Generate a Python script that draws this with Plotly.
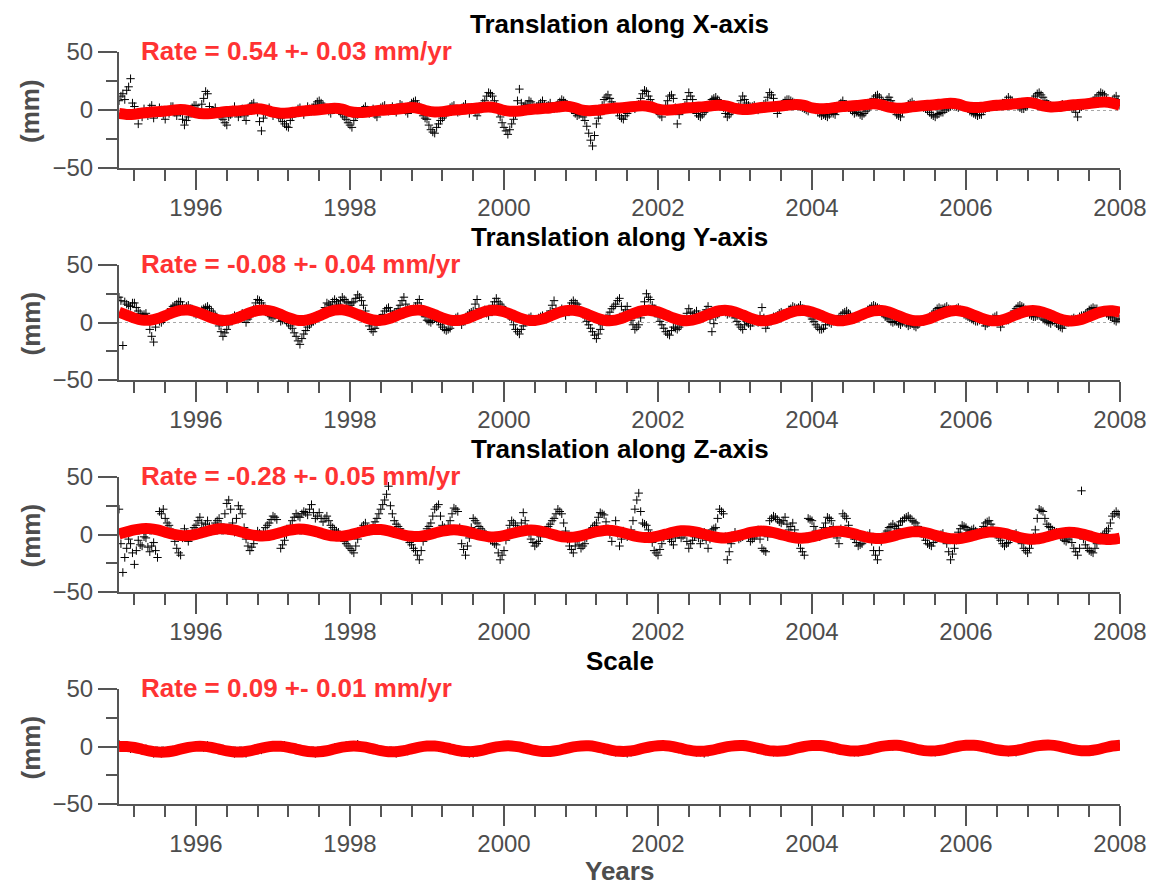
import numpy as np
import plotly.graph_objects as go

W, H = 1165, 888

# ---------------- data ----------------
# black crosses: daily solutions, thinned (one value every `step` years)
black_start = 1995.0
black_steps = [0.025, 0.025, 0.025, 0.05]
fit_start, fit_step = 1995.0, 0.1        # fitted model

x_black = [
    8, 12, 14, 9, 17, 20, 27, 6, 3, -4, -12, -2, -6, 1, -3, -5, 2, 4, -7, -1, -3, 2, 0, -4, -8, -1, -3, 3, 3, -2, -5, 0, -2, -8, -13, -9, -6, -1, 2, 4,
    4, 1, -2, 5, 10, 16, 14, 3, -3, -1, 2, -3, -4, -6, -8, -11, -13, -6, -4, 0, 3, -2, -6, -3, 1, -5, -9, -2, 3, 5, 6, 1, -2, -10, -18, -7, -3, 0, 2, -1,
    -5, -3, -2, -6, -7, -10, -12, -14, -15, -9, -6, -3, -2, 1, 2, -1, -4, 0, 3, 1, -1, 2, 5, 7, 8, 6, 4, 2, 1, -1, -3, 0, 2, 1, 0, -2, -4, -6, -8, -11,
    -13, -15, -9, -6, -4, -2, -1, 1, 3, 0, -3, -1, 1, -4, -6, -1, 2, 3, 4, 1, -1, 1, 3, 0, -2, 2, 5, 4, 2, -1, -3, 2, 6, 7, 8, 5, 3, -1, -5, -7,
    -8, -13, -17, -19, -20, -15, -12, -9, -7, -5, -3, 0, 2, 3, 4, 1, -2, -1, 1, 3, 5, 1, -3, 0, 2, -2, -5, -1, 3, 6, 8, 12, 15, 14, 12, 8, 4, -2, -6, -11,
    -15, -18, -21, -17, -12, -8, -4, 8, 18, 6, 3, 4, 5, 8, 7, 4, 2, 3, 4, 6, 8, 5, 3, 4, 6, 3, 1, 3, 5, 7, 9, 8, 6, 4, 3, 1, 0, -3, -5, -4,
    -3, -6, -9, -14, -20, -26, -31, -22, -12, -7, -4, 4, 9, 11, 13, 10, 7, 4, 2, -2, -5, -7, -8, -5, -3, 0, 3, 2, 1, 3, 5, 10, 14, 17, 16, 12, 9, 5, 2, 0,
    -2, -4, -6, 0, 4, 8, 12, 13, 10, 2, -12, -4, 1, 2, 4, 9, 15, 12, 9, 3, -3, -5, -6, -4, -2, 0, 3, 6, 9, 10, 11, 9, 7, 4, 2, -3, -6, -4, -2, 0,
    1, 2, 3, 8, 12, 9, 6, 4, 2, 3, 4, 2, 0, 1, 3, 5, 6, 11, 15, 13, 10, 4, -3, 1, 4, 6, 8, 9, 9, 8, 7, 6, 5, 4, 3, 2, 1, 0, -1, 1,
    2, 1, 0, -2, -3, -5, -4, -5, -6, -4, -2, -3, -4, 0, 4, 6, 8, 5, 3, 2, 1, -1, -3, -2, -2, -4, -5, -3, -1, 1, 3, 7, 10, 12, 13, 11, 9, 7, 6, 9,
    11, 8, 5, 0, -4, -5, -6, -2, 1, 3, 5, 6, 7, 5, 3, 4, 4, 3, 2, 1, 0, -2, -4, -5, -6, -4, -3, -2, -2, 0, 1, 2, 3, 4, 4, 3, 2, 4, 5, 4,
    3, 1, -1, -2, -3, -4, -5, -4, -4, -1, 1, 2, 2, 3, 4, 3, 3, 4, 5, 6, 6, 9, 11, 9, 8, 6, 5, 3, 2, 1, 1, 3, 4, 6, 7, 10, 12, 14, 15, 13,
    11, 8, 6, 5, 4, 3, 2, 3, 3, 4, 5, 4, 4, 3, 3, 2, 2, -2, -6, 1, 3, 4, 5, 6, 6, 7, 8, 10, 11, 13, 15, 14, 13, 9, 6, 7, 8, 10, 12, 9,
    4,
]
x_fit = [
    -3.0, -3.8, -3.6, -2.6, -1.9, -1.4, -0.9, -0.1, 0.4, -0.4,
    -2.5, -3.3, -3.0, -2.1, -1.3, -0.9, -0.3, 0.4, 1.0, 0.1,
    -1.9, -2.8, -2.5, -1.6, -0.8, -0.3, 0.2, 1.0, 1.5, 0.7,
    -1.4, -2.2, -2.0, -1.0, -0.3, 0.2, 0.7, 1.5, 2.1, 1.2,
    -0.8, -1.7, -1.4, -0.5, 0.3, 0.7, 1.3, 2.0, 2.6, 1.7,
    -0.3, -1.1, -0.9, 0.1, 0.8, 1.3, 1.8, 2.6, 3.2, 2.3,
    0.2, -0.6, -0.3, 0.6, 1.4, 1.8, 2.4, 3.1, 3.7, 2.8,
    0.8, -0.1, 0.2, 1.1, 1.9, 2.4, 2.9, 3.7, 4.2, 3.4,
    1.3, 0.5, 0.7, 1.7, 2.4, 2.9, 3.5, 4.2, 4.8, 3.9,
    1.9, 1.0, 1.3, 2.2, 3.0, 3.4, 4.0, 4.7, 5.3, 4.4,
    2.4, 1.6, 1.8, 2.8, 3.5, 4.0, 4.5, 5.3, 5.8, 5.0,
    2.9, 2.1, 2.3, 3.3, 4.1, 4.5, 5.1, 5.8, 6.4, 5.5,
    3.5, 2.6, 2.9, 3.8, 4.6, 5.0, 5.6, 6.4, 6.9, 6.0,
    4.0,
]

y_black = [
    22, 19, -20, 18, 16, 15, 14, 17, 17, 13, 10, 8, 6, 7, 8, 2, -6, -12, -17, -4, 3, 1, 0, 2, 5, 6, 8, 12, 14, 15, 16, 18, 18, 15, 12, 14, 15, 12, 10, 8,
    7, 8, 9, 11, 12, 13, 14, 12, 10, 8, 6, 2, -3, -8, -12, -9, -6, -2, 2, 4, 6, 5, 3, 6, 8, 4, 0, 3, 5, 9, 12, 17, 20, 19, 17, 14, 12, 9, 6, 5,
    4, 6, 8, 4, 1, 2, 3, 1, -1, -3, -5, -9, -12, -16, -19, -14, -10, -7, -4, -2, 0, 1, 2, 4, 6, 8, 9, 13, 17, 16, 15, 18, 20, 18, 16, 19, 22, 20, 18, 17,
    15, 17, 18, 21, 24, 22, 19, 15, 10, 3, -3, -6, -8, -5, -2, 1, 4, 7, 10, 12, 13, 10, 7, 8, 9, 12, 15, 19, 22, 16, 12, 11, 10, 12, 14, 17, 20, 14, 8, 5,
    2, 1, 0, 2, 4, 3, 1, -2, -4, -6, -7, -6, -5, -1, 2, 4, 5, 1, -2, 1, 3, 6, 8, 9, 10, 16, 20, 12, 7, 9, 11, 8, 6, 11, 15, 18, 21, 18, 16, 14,
    12, 10, 8, 5, 3, -2, -6, -8, -10, -6, -3, 0, 2, 4, 5, 3, 1, 2, 4, 5, 6, 4, 3, 7, 10, 15, 19, 12, 8, 10, 12, 9, 6, 10, 14, 17, 19, 17, 16, 13,
    10, 7, 5, 1, -2, -5, -8, -11, -14, -10, -6, -2, 2, 4, 6, 9, 12, 14, 16, 19, 21, 14, 8, 11, 14, 8, 2, -2, -6, -4, -2, 4, 10, 18, 25, 22, 20, 15, 12, 8,
    5, 1, -2, -5, -8, -10, -11, -7, -4, -5, -6, -4, -2, 1, 3, 8, 12, 9, 6, 8, 10, 7, 4, 6, 8, 11, 14, 3, -8, -1, 5, 7, 9, 10, 11, 9, 7, 8, 10, 7,
    4, 1, -2, -4, -6, -2, 1, -1, -3, 0, 3, 1, 0, 6, 13, 4, -5, -2, 2, 3, 5, 5, 6, 8, 9, 8, 7, 9, 11, 12, 14, 13, 12, 13, 15, 12, 10, 9, 8, 6,
    3, 1, -2, -4, -6, -6, -5, -2, 1, 0, -1, 1, 2, 3, 4, 6, 8, 9, 10, 8, 6, 4, 3, 4, 5, 6, 7, 8, 9, 11, 12, 14, 15, 14, 13, 12, 11, 8, 5, 4,
    3, 1, 0, 1, 1, -1, -2, 0, 2, -1, -3, -2, -1, -3, -4, -2, 0, 1, 1, 2, 3, 5, 6, 8, 10, 12, 13, 12, 12, 13, 14, 12, 11, 10, 10, 12, 13, 11, 9, 7,
    6, 5, 4, 3, 2, 1, 1, 2, 3, 0, -3, -1, 0, 2, 4, 5, 6, 1, -4, 0, 3, 2, 2, 4, 7, 10, 12, 14, 15, 14, 13, 11, 9, 7, 6, 5, 5, 6, 7, 5,
    3, 2, 1, 0, -1, 1, 2, -1, -3, -4, -5, -2, 0, 0, 1, 3, 4, 3, 3, 5, 6, 6, 7, 9, 11, 12, 13, 12, 12, 10, 9, 10, 10, 8, 6, 5, 4, 2, 1, 3,
    3,
]
y_fit = [
    9.0, 6.5, 3.8, 2.1, 2.0, 3.4, 6.0, 8.7, 10.5, 10.8,
    9.4, 6.9, 4.1, 2.2, 1.9, 3.2, 5.7, 8.5, 10.4, 10.7,
    9.5, 7.0, 4.1, 2.1, 1.8, 3.2, 5.8, 8.7, 10.7, 11.0,
    9.6, 7.0, 4.1, 2.2, 1.9, 3.2, 5.7, 8.5, 10.4, 10.8,
    9.4, 6.8, 4.0, 2.1, 1.8, 3.1, 5.6, 8.4, 10.3, 10.6,
    9.3, 6.8, 4.0, 2.1, 1.8, 3.1, 5.6, 8.4, 10.3, 10.6,
    9.3, 6.7, 3.9, 2.0, 1.7, 3.0, 5.5, 8.3, 10.2, 10.5,
    9.2, 6.7, 3.9, 2.0, 1.7, 3.0, 5.5, 8.3, 10.2, 10.5,
    9.1, 6.6, 3.8, 1.9, 1.6, 2.9, 5.4, 8.2, 10.1, 10.4,
    9.1, 6.6, 3.8, 1.9, 1.6, 2.9, 5.4, 8.2, 10.1, 10.4,
    9.0, 6.5, 3.7, 1.8, 1.5, 2.8, 5.3, 8.1, 10.0, 10.3,
    9.0, 6.5, 3.7, 1.8, 1.5, 2.8, 5.3, 8.1, 10.0, 10.3,
    8.9, 6.4, 3.6, 1.7, 1.4, 2.7, 5.2, 8.0, 9.9, 10.2,
    8.9,
]

z_black = [
    22, -8, -33, -20, -12, -4, -8, -16, -26, -14, -5, -9, -10, -2, -3, -11, -15, -10, -7, -14, -20, 20, 18, 22, 14, 10, 8, 4, 2, -6, -12, -16, -18, -3, 5, 1, -6, -2, 3, 6,
    8, 12, 15, 10, 6, 9, 12, 7, 3, 6, 10, 12, 14, 9, 6, 18, 27, 30, 22, 10, 2, 14, 25, 22, 18, 6, -4, -10, -14, -11, -8, -2, 3, 1, -2, 2, 6, 8, 10, 13,
    16, 15, 13, 1, -12, -9, -5, 0, 4, 8, 12, 15, 18, 16, 15, 18, 20, 19, 17, 22, 26, 19, 14, 16, 19, 14, 11, 14, 16, 12, 8, 6, 4, 3, 2, -1, -3, -6, -8, -10,
    -12, -14, -16, -10, -4, 1, 6, 8, 10, 6, 3, 5, 8, 11, 14, 18, 22, 26, 30, 35, 42, 25, 18, 12, 9, 7, 5, 2, 0, -2, -4, -7, -9, -12, -14, -18, -22, -14, -6, 0,
    5, 7, 10, 16, 22, 24, 26, 16, 8, 6, 4, 8, 12, 18, 23, 22, 20, 6, -8, -13, -18, -10, -3, 6, 14, 12, 10, 7, 5, 3, 1, -1, -3, -5, -6, -8, -9, -16, -22, -18,
    -14, -5, 3, 8, 12, 10, 8, 5, 2, 10, 19, 12, 6, 1, -4, -7, -10, -8, -6, -2, 2, 3, 4, 7, 9, 12, 14, 18, 22, 20, 18, 10, 3, -4, -10, -13, -16, -10, -5, -9,
    -12, -10, -8, -3, 2, 4, 6, 8, 10, 15, 19, 18, 17, 11, 5, 0, -6, 3, 12, 1, -10, -4, 3, 0, -2, 1, 4, 12, 22, 30, 36, 20, 10, 9, 8, 4, 0, -7, -14, -16,
    -18, -13, -8, -3, 1, -1, -4, -6, -9, -3, 2, 0, -3, -1, 0, -6, -12, -8, -5, -2, 1, -3, -8, -3, 2, -5, -12, -4, 4, 5, 6, 14, 22, 20, 18, -2, -22, -15, -8, -3,
    2, -1, -4, -3, -2, 0, 1, -2, -6, -4, -3, 1, 4, -4, -12, -14, -15, -2, 12, 14, 16, 15, 13, 11, 10, 12, 15, 9, 4, 7, 10, 4, -2, -7, -12, -15, -18, -2, 14, 13,
    12, 7, 3, 0, -2, 2, 6, 10, 15, 14, 12, 7, 2, -3, -8, 5, 18, 16, 14, 8, 2, -1, -4, -7, -10, -9, -8, -5, -3, -1, 1, -6, -14, -18, -22, -14, -6, -2, 1, 3,
    6, 7, 9, 7, 5, 8, 11, 12, 14, 15, 16, 14, 12, 11, 10, 7, 4, 1, -2, -5, -8, -9, -10, -7, -4, -3, -2, 0, 1, -3, -8, -15, -22, -17, -12, -5, 2, 5, 8, 7,
    6, 4, 3, 4, 5, 3, 1, 2, 3, 7, 10, 11, 12, 9, 6, 3, 0, -3, -5, -8, -10, -8, -7, -4, -2, 0, 1, -1, -4, -8, -12, -14, -16, -12, -8, -2, 4, 14, 22, 21,
    20, 14, 9, 7, 6, 4, 3, 2, 1, -1, -3, -5, -6, -4, -2, -7, -12, -15, -18, -12, 38, -4, -9, -12, -14, -15, -16, -12, -8, -5, -2, -1, 1, 3, 5, 10, 16, 18, 20, 18,
    17,
]
z_fit = [
    0.5, 2.3, 4.0, 5.1, 5.1, 4.0, 2.1, 0.3, -0.8, -0.9,
    0.2, 2.0, 3.8, 4.9, 4.8, 3.7, 1.9, 0.0, -1.1, -1.2,
    -0.1, 1.7, 3.5, 4.6, 4.5, 3.4, 1.6, -0.3, -1.4, -1.4,
    -0.3, 1.4, 3.2, 4.3, 4.3, 3.2, 1.3, -0.5, -1.6, -1.7,
    -0.6, 1.2, 2.9, 4.0, 4.0, 2.9, 1.0, -0.8, -1.9, -2.0,
    -0.9, 0.9, 2.6, 3.7, 3.7, 2.6, 0.7, -1.1, -2.2, -2.3,
    -1.2, 0.6, 2.4, 3.5, 3.4, 2.3, 0.5, -1.4, -2.5, -2.6,
    -1.5, 0.3, 2.1, 3.2, 3.1, 2.0, 0.2, -1.7, -2.8, -2.8,
    -1.7, 0.0, 1.8, 2.9, 2.8, 1.7, -0.1, -1.9, -3.0, -3.1,
    -2.0, -0.3, 1.5, 2.6, 2.6, 1.5, -0.4, -2.2, -3.3, -3.4,
    -2.3, -0.5, 1.2, 2.3, 2.3, 1.2, -0.7, -2.5, -3.6, -3.7,
    -2.6, -0.8, 1.0, 2.1, 2.0, 0.9, -0.9, -2.8, -3.9, -4.0,
    -2.9, -1.1, 0.7, 1.8, 1.7, 0.6, -1.2, -3.1, -4.2, -4.2,
    -3.1,
]

s_black = [
    2, -1, 1, -2, 0, -2, -3, -2, -4, -6, -5, -6, -5, -5, -3, -4, -2, -1, -1, 0,
    1, 0, -1, 1, -1, -2, -3, -2, -4, -5, -6, -5, -4, -6, -4, -3, -2, -3, 0, -1,
    1, 0, 0, 1, -1, -1, -2, -3, -4, -4, -5, -6, -5, -4, -4, -3, -1, -2, 0, 1,
    0, 1, 2, 0, -1, -1, -3, -2, -3, -4, -5, -5, -6, -4, -3, -4, -2, -1, 0, 0,
    1, 0, 1, -1, 0, -2, -2, -3, -4, -5, -5, -6, -6, -5, -4, -3, -2, -2, -1, 0,
    0, 1, 0, 0, -1, -1, -2, -3, -3, -4, -4, -5, -5, -4, -3, -3, -2, -1, 0, 0,
    1, 0, 1, 0, -1, -2, -3, -2, -4, -5, -4, -5, -6, -5, -4, -2, -2, -1, 0, 1,
    0, 1, 0, 1, 0, -1, -2, -3, -3, -4, -5, -5, -6, -5, -3, -3, -2, -1, 0, 1,
    1, 0, 1, 0, -1, -2, -2, -3, -4, -4, -5, -4, -4, -4, -3, -2, -2, -1, 0, 0,
    1, 1, 0, 1, -1, -1, -2, -2, -3, -4, -4, -5, -5, -4, -3, -2, -1, -1, 0, 1,
    1, 0, 1, 1, 0, -1, -2, -2, -3, -4, -4, -4, -5, -4, -3, -3, -2, -1, 0, 1,
    1, 1, 2, 0, 0, -1, -1, -2, -3, -3, -4, -5, -4, -5, -3, -2, -2, -1, 0, 1,
    2, 1, 1, 2, 1, 0, -1, -2, -3, -3, -4, -4, -3, -4, -3, -2, -1, 0, 1, 0,
    2,
]
s_fit = [
    0.0, 0.0, -0.9, -2.4, -3.9, -4.8, -4.8, -3.9, -2.3, -0.8,
    0.1, 0.1, -0.8, -2.3, -3.8, -4.7, -4.7, -3.8, -2.2, -0.7,
    0.2, 0.2, -0.7, -2.2, -3.7, -4.6, -4.6, -3.7, -2.1, -0.6,
    0.3, 0.3, -0.6, -2.1, -3.6, -4.5, -4.5, -3.6, -2.0, -0.5,
    0.4, 0.4, -0.5, -2.0, -3.5, -4.4, -4.4, -3.5, -1.9, -0.4,
    0.5, 0.5, -0.4, -1.9, -3.4, -4.3, -4.3, -3.4, -1.8, -0.3,
    0.5, 0.6, -0.3, -1.8, -3.3, -4.2, -4.2, -3.3, -1.7, -0.2,
    0.6, 0.7, -0.2, -1.7, -3.2, -4.1, -4.1, -3.2, -1.6, -0.1,
    0.7, 0.8, -0.1, -1.6, -3.1, -4.0, -4.0, -3.1, -1.5, 0.0,
    0.8, 0.9, 0.0, -1.5, -3.0, -3.9, -3.9, -3.0, -1.4, 0.1,
    0.9, 1.0, 0.1, -1.4, -2.9, -3.8, -3.8, -2.9, -1.3, 0.2,
    1.0, 1.1, 0.2, -1.3, -2.8, -3.7, -3.7, -2.8, -1.2, 0.3,
    1.1, 1.2, 0.3, -1.2, -2.7, -3.6, -3.6, -2.7, -1.1, 0.4,
    1.2,
]

titles = ["Translation along X-axis", "Translation along Y-axis",
          "Translation along Z-axis", "Scale"]
rates = ["Rate = 0.54 +- 0.03 mm/yr", "Rate = -0.08 +- 0.04 mm/yr",
         "Rate = -0.28 +- 0.05 mm/yr", "Rate = 0.09 +- 0.01 mm/yr"]
year_ticks = [1996, 1998, 2000, 2002, 2004, 2006, 2008]
mm_ticks = [-50, 0, 50]
x_range = [1995, 2008]
y_range = [-50, 50]

black_series = [x_black, y_black, z_black, s_black]
fit_series = [x_fit, y_fit, z_fit, s_fit]

# ---------------- layout geometry (pixels) ----------------
plot_left, plot_right = 119, 1120
panel_px = [(52, 168), (265, 380), (477, 592), (689, 804)]
FONT = "Liberation Sans, Arial, Helvetica, sans-serif"
AX = "#555555"
TXT = "#4d4d4d"


def px(x):
    return x / W


def py(y):
    return 1 - y / H


fig = go.Figure()
annotations = []
layout = {}
for i in range(4):
    sfx = "" if i == 0 else str(i + 1)
    b = black_series[i]
    f = fit_series[i]
    tb = np.round(black_start + black_steps[i] * np.arange(len(b)), 4)
    tf = np.round(fit_start + fit_step * np.arange(len(f)), 4)
    fig.add_trace(go.Scatter(
        x=tb, y=b, mode="markers", xaxis="x" + sfx, yaxis="y" + sfx,
        marker=dict(symbol="cross-thin", size=6, color="black",
                    line=dict(width=1, color="black")),
        showlegend=False, hoverinfo="skip"))
    fig.add_trace(go.Scatter(
        x=tf, y=f, mode="lines", xaxis="x" + sfx, yaxis="y" + sfx,
        line=dict(color="#ff0000", width=11, shape="spline"),
        showlegend=False, hoverinfo="skip"))

    top, bot = panel_px[i]
    layout["xaxis" + sfx] = dict(
        domain=[px(plot_left), px(plot_right)], anchor="y" + sfx,
        range=x_range, tickvals=year_ticks, ticks="outside", ticklen=20,
        tickwidth=1.5, tickcolor=AX, showline=True, linecolor=AX, linewidth=2,
        showgrid=False, zeroline=False, automargin=False,
        ticklabelstandoff=-3,
        tickfont=dict(family=FONT, size=24, color=TXT),
        minor=dict(dtick=0.4, tick0=1996, ticks="outside", ticklen=11,
                   tickwidth=1.5, tickcolor=AX, showgrid=False),
    )
    layout["yaxis" + sfx] = dict(
        domain=[py(bot), py(top)], anchor="x" + sfx,
        range=y_range, tickvals=mm_ticks, ticks="outside", ticklen=19,
        tickwidth=1.5, tickcolor=AX, showline=True, linecolor=AX, linewidth=2,
        showgrid=True, gridcolor="#a8a8a8", griddash="dot", gridwidth=1,
        zeroline=False, automargin=False,
        tickfont=dict(family=FONT, size=24, color=TXT),
        minor=dict(dtick=25, tick0=0, ticks="outside", ticklen=11,
                   tickwidth=1.5, tickcolor=AX, showgrid=False),
    )
    annotations.append(dict(
        text="<b>" + titles[i] + "</b>", xref="paper", yref="paper",
        x=px((plot_left + plot_right) / 2), y=py(top - 28),
        xanchor="center", yanchor="middle", showarrow=False,
        font=dict(family=FONT, size=26, color="black")))
    annotations.append(dict(
        text="<b>" + rates[i] + "</b>", xref="paper", yref="paper",
        x=px(139), y=py(top - 1), xanchor="left", yanchor="middle",
        showarrow=False, font=dict(family=FONT, size=26, color="#ff3333")))
    annotations.append(dict(
        text="<b>(mm)</b>", xref="paper", yref="paper",
        x=px(30), y=py((top + bot) / 2 + 1), xanchor="center", yanchor="middle",
        textangle=-90, showarrow=False,
        font=dict(family=FONT, size=26, color=TXT)))

annotations.append(dict(
    text="<b>Years</b>", xref="paper", yref="paper",
    x=px((plot_left + plot_right) / 2), y=0, xanchor="center",
    yanchor="bottom", showarrow=False,
    font=dict(family=FONT, size=26, color=TXT)))

fig.update_layout(
    width=W, height=H, autosize=False,
    margin=dict(l=0, r=0, t=0, b=0, pad=0, autoexpand=False),
    paper_bgcolor="white", plot_bgcolor="white",
    annotations=annotations, hovermode=False, showlegend=False,
    **layout,
)

fig.write_html("out.html", config={"displayModeBar": False},
               post_script="document.body.style.margin='0px';")
